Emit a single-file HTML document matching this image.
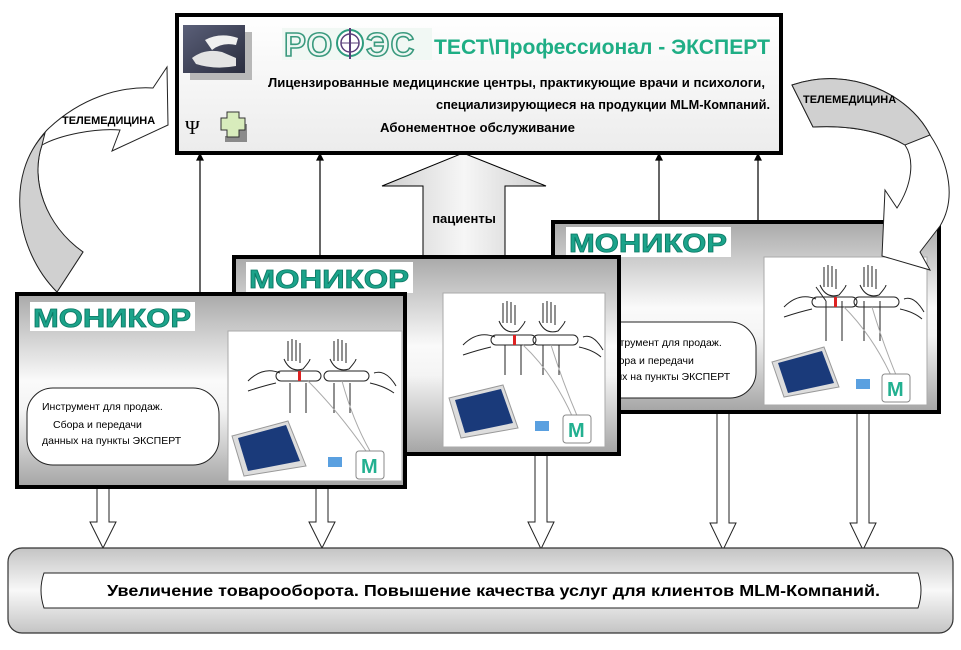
<!DOCTYPE html>
<html><head><meta charset="utf-8"><style>
html,body{margin:0;padding:0;background:#fff;}
svg{display:block;font-family:"Liberation Sans","DejaVu Sans",sans-serif;}
</style></head><body>
<svg width="961" height="650" viewBox="0 0 961 650" xmlns="http://www.w3.org/2000/svg">
<defs>
<linearGradient id="pg" x1="0" y1="0" x2="0" y2="1">
<stop offset="0" stop-color="#a9a9a9"/><stop offset="0.45" stop-color="#fafafa"/><stop offset="0.6" stop-color="#f4f4f4"/><stop offset="1" stop-color="#a4a4a4"/>
</linearGradient>
<linearGradient id="tg" x1="0" y1="0" x2="0" y2="1">
<stop offset="0" stop-color="#ffffff"/><stop offset="1" stop-color="#ececec"/>
</linearGradient>
<linearGradient id="bg" x1="0" y1="0" x2="0" y2="1">
<stop offset="0" stop-color="#c4c4c4"/><stop offset="0.5" stop-color="#f8f8f8"/><stop offset="1" stop-color="#c4c4c4"/>
</linearGradient>
<linearGradient id="ag" x1="0" y1="0" x2="1" y2="0">
<stop offset="0" stop-color="#cfcfcf"/><stop offset="0.5" stop-color="#f6f6f6"/><stop offset="1" stop-color="#cfcfcf"/>
</linearGradient>
<linearGradient id="dev" x1="0" y1="0" x2="1" y2="1">
<stop offset="0" stop-color="#5a5f78"/><stop offset="1" stop-color="#2a2d3e"/>
</linearGradient>
</defs>

<g stroke="#000" stroke-width="1.2" fill="#000">
<line x1="200" y1="294" x2="200" y2="158"/><path d="M197,160 L200,154 L203,160Z"/>
<line x1="320" y1="257" x2="320" y2="158"/><path d="M317,160 L320,154 L323,160Z"/>
<line x1="659" y1="222" x2="659" y2="158"/><path d="M656,160 L659,154 L662,160Z"/>
<line x1="758" y1="222" x2="758" y2="158"/><path d="M755,160 L758,154 L761,160Z"/>
</g>

<path d="M463,153 L546,186 L505,186 L505,258 L423,258 L423,186 L382,186Z" fill="url(#ag)" stroke="#000" stroke-width="1"/>
<text x="464" y="223" font-size="13" font-weight="bold" text-anchor="middle">пациенты</text>

<rect x="177" y="15" width="604" height="138" fill="url(#tg)" stroke="#000" stroke-width="4"/>
<rect x="190" y="32" width="62" height="48" fill="#b8b8b8"/>
<rect x="183" y="25" width="62" height="48" fill="url(#dev)"/>
<path d="M192,58 Q205,48 222,52 L236,58 L236,66 Q215,70 196,64Z" fill="#e4e4e4"/>
<path d="M205,40 Q220,32 238,38 L236,45 Q222,42 212,50Z" fill="#f0f0f0"/>
<rect x="282" y="28" width="150" height="32" fill="#f1f8f4"/>
<text x="284" y="56" font-size="33" fill="#eef7f3" stroke="#3a9a7e" stroke-width="1.6" font-weight="bold" letter-spacing="1">РО</text>
<circle cx="350" cy="43" r="13" fill="#fff" stroke="#2e9c7e" stroke-width="2"/>
<circle cx="350" cy="43" r="9" fill="#fff" stroke="#5a3f7a" stroke-width="1.5"/>
<line x1="350" y1="28" x2="350" y2="59" stroke="#5a3f7a" stroke-width="2"/>
<line x1="341" y1="43" x2="359" y2="43" stroke="#5a3f7a" stroke-width="1"/>
<text x="366" y="56" font-size="33" fill="#eef7f3" stroke="#3a9a7e" stroke-width="1.6" font-weight="bold" letter-spacing="1">ЭС</text>
<text x="434" y="54" font-size="21" fill="#1fae85" font-weight="bold" textLength="336" lengthAdjust="spacingAndGlyphs">ТЕСТ\Профессионал - ЭКСПЕРТ</text>
<text x="268" y="87" font-size="12.5" font-weight="bold" textLength="497" lengthAdjust="spacingAndGlyphs">Лицензированные медицинские центры, практикующие врачи и психологи,</text>
<text x="436" y="109" font-size="12.5" font-weight="bold" textLength="334" lengthAdjust="spacingAndGlyphs">специализирующиеся на продукции MLM-Компаний.</text>
<text x="380" y="132" font-size="12.5" font-weight="bold" textLength="195" lengthAdjust="spacingAndGlyphs">Абонементное обслуживание</text>
<text x="185" y="134" font-size="20" font-family="Liberation Serif,serif">Ψ</text>
<path d="M233,124 h14 v18 h-22 v-6 h8Z" fill="#8a8a8a"/>
<path d="M227,112 h12 v6 h6 v12 h-6 v7 h-12 v-7 h-6 v-12 h6Z" fill="#d8ecbc" stroke="#333" stroke-width="1"/>

<!-- left curved arrow -->
<path d="M57,292 C15,250 5,175 47,130 C80,98 120,86 153,88 L167,67 L168,125 L112,151 L120,130 C95,128 60,135 42,145 C30,180 45,225 83,252Z" fill="#fff" stroke="#222" stroke-width="1"/>
<path d="M57,292 C15,250 5,175 45,133 L42,145 C30,180 45,225 83,252Z" fill="#d0d0d0" stroke="#222" stroke-width="1"/>
<text x="62" y="124" font-size="11" font-weight="bold">ТЕЛЕМЕДИЦИНА</text>

<g fill="#fff" stroke="#222" stroke-width="1">
<path d="M97,488 h12 v34 h7 l-13,26 l-13,-26 h7Z"/>
<path d="M316,488 h12 v34 h7 l-13,26 l-13,-26 h7Z"/>
<path d="M535,455 h12 v67 h7 l-13,27 l-13,-27 h7Z"/>
<path d="M717,413 h12 v110 h7 l-13,27 l-13,-27 h7Z"/>
<path d="M857,413 h12 v110 h7 l-13,27 l-13,-27 h7Z"/>
</g>

<g transform="translate(553,222)">
<rect x="0" y="0" width="386" height="190" fill="url(#pg)" stroke="#000" stroke-width="4"/>
<rect x="13" y="5" width="165" height="30" fill="#fff"/>
<text x="16" y="30" font-size="26" font-weight="bold" fill="#1ba38a" stroke="#0d7a66" stroke-width="0.8" textLength="158" lengthAdjust="spacingAndGlyphs">МОНИКОР</text>
<rect x="18" y="100" width="185" height="76" rx="26" fill="#fff" stroke="#222" stroke-width="1"/>
<text x="48" y="124" font-size="10.5">Инструмент для продаж.</text>
<text x="52" y="142" font-size="10.5">Сбора  и  передачи</text>
<text x="38" y="158" font-size="10.5">данных на пункты ЭКСПЕРТ</text>
</g>
<g transform="translate(764,257)">
<rect width="163" height="148" fill="#fff" stroke="#aaa"/>
<g stroke="#222" fill="none" stroke-width="1">
<path d="M60,10 v20 M64,8 v22 M68,9 v21 M72,12 v20 M56,28 Q62,42 75,38 Q82,30 82,28 M52,30 L62,44 M62,44 v40 M78,44 v40"/>
<rect x="48" y="40" width="45" height="10" rx="5"/>
<path d="M100,10 v20 M104,8 v22 M108,9 v21 M112,12 v20 M96,28 Q102,42 115,38 Q122,30 122,28 M100,44 v40 M116,44 v40"/>
<rect x="90" y="40" width="45" height="10" rx="5"/>
<path d="M20,50 Q35,35 52,42 M20,60 Q35,55 48,52 M140,42 Q150,38 160,55 M136,52 Q150,55 158,62"/>
<path d="M80,50 Q110,80 130,125 M108,50 Q120,90 135,125" stroke="#aaa"/>
</g>
<rect x="70" y="40" width="3" height="10" fill="#d22"/>
<path d="M8,105 L60,90 L75,130 L20,140Z" fill="#ddd" stroke="#999"/>
<path d="M14,106 L58,94 L70,126 L24,136Z" fill="#1a3a7a"/>
<rect x="92" y="122" width="14" height="10" fill="#5aa0e0"/>
<rect x="118" y="117" width="28" height="28" rx="3" fill="#fff" stroke="#888"/>
<text x="123" y="139" font-size="20" font-weight="bold" fill="#22b090">M</text>
</g>

<!-- right curved arrow (on top of panel 1) -->
<path d="M792,85 C850,65 910,95 930,135 C950,165 956,200 940,226 L920,252 L930,270 L882,256 L885,190 L897,208 C912,185 915,160 905,145 C880,130 845,125 813,127Z" fill="#fff" stroke="#222" stroke-width="1"/>
<path d="M792,85 C850,65 910,95 930,135 L905,145 C880,130 845,125 813,127Z" fill="#d0d0d0" stroke="#222" stroke-width="1"/>
<text x="803" y="103" font-size="11" font-weight="bold">ТЕЛЕМЕДИЦИНА</text>

<g transform="translate(234,257)">
<rect x="0" y="0" width="385" height="197" fill="url(#pg)" stroke="#000" stroke-width="4"/>
<rect x="12" y="5" width="167" height="31" fill="#fff"/>
<text x="15" y="31" font-size="26" font-weight="bold" fill="#1ba38a" stroke="#0d7a66" stroke-width="0.8" textLength="160" lengthAdjust="spacingAndGlyphs">МОНИКОР</text>
</g>
<g transform="translate(443,293)">
<rect width="162" height="154" fill="#fff" stroke="#aaa"/>
<g stroke="#222" fill="none" stroke-width="1">
<path d="M60,10 v20 M64,8 v22 M68,9 v21 M72,12 v20 M56,28 Q62,42 75,38 Q82,30 82,28 M62,52 v30 M78,52 v30"/>
<rect x="48" y="42" width="45" height="10" rx="5"/>
<path d="M100,10 v20 M104,8 v22 M108,9 v21 M112,12 v20 M96,28 Q102,42 115,38 Q122,30 122,28 M100,52 v30 M116,52 v30"/>
<rect x="90" y="42" width="45" height="10" rx="5"/>
<path d="M20,52 Q35,37 52,44 M20,62 Q35,57 48,54 M140,44 Q150,40 160,57 M136,54 Q150,57 158,64"/>
<path d="M80,52 Q110,80 130,125 M108,52 Q120,90 135,125" stroke="#aaa"/>
</g>
<rect x="70" y="42" width="3" height="10" fill="#d22"/>
<path d="M6,105 L60,92 L75,135 L18,145Z" fill="#ddd" stroke="#999"/>
<path d="M12,107 L58,96 L70,130 L22,140Z" fill="#1a3a7a"/>
<rect x="92" y="128" width="14" height="10" fill="#5aa0e0"/>
<rect x="120" y="122" width="28" height="28" rx="3" fill="#fff" stroke="#888"/>
<text x="125" y="144" font-size="20" font-weight="bold" fill="#22b090">M</text>
</g>

<g transform="translate(17,294)">
<rect x="0" y="0" width="388" height="193" fill="url(#pg)" stroke="#000" stroke-width="4"/>
<rect x="13" y="8" width="165" height="29" fill="#fff"/>
<text x="16" y="33" font-size="26" font-weight="bold" fill="#1ba38a" stroke="#0d7a66" stroke-width="0.8" textLength="158" lengthAdjust="spacingAndGlyphs">МОНИКОР</text>
<rect x="10" y="94" width="192" height="77" rx="26" fill="#fff" stroke="#222" stroke-width="1"/>
<text x="25" y="116" font-size="10.5">Инструмент для продаж.</text>
<text x="36" y="134" font-size="10.5">Сбора  и  передачи</text>
<text x="25" y="150" font-size="10.5">данных на пункты ЭКСПЕРТ</text>
</g>
<g transform="translate(228,331)">
<rect width="174" height="150" fill="#fff" stroke="#aaa"/>
<g stroke="#222" fill="none" stroke-width="1">
<path d="M60,10 v20 M64,8 v22 M68,9 v21 M72,12 v20 M56,28 Q62,42 75,38 Q82,30 82,28 M62,52 v30 M78,52 v30"/>
<rect x="48" y="40" width="45" height="10" rx="5"/>
<path d="M106,10 v20 M110,8 v22 M114,9 v21 M118,12 v20 M102,28 Q108,42 121,38 Q128,30 128,28 M106,52 v30 M122,52 v30"/>
<rect x="96" y="40" width="45" height="10" rx="5"/>
<path d="M20,50 Q35,35 52,42 M20,60 Q35,55 48,52 M146,42 Q158,38 168,55 M142,52 Q156,55 166,62"/>
<path d="M80,50 Q110,80 138,120 M114,50 Q125,90 142,120" stroke="#aaa"/>
</g>
<rect x="70" y="40" width="3" height="10" fill="#d22"/>
<path d="M4,105 L60,90 L78,135 L16,145Z" fill="#ddd" stroke="#999"/>
<path d="M10,107 L58,94 L72,130 L20,140Z" fill="#1a3a7a"/>
<rect x="100" y="126" width="14" height="10" fill="#5aa0e0"/>
<rect x="128" y="120" width="28" height="28" rx="3" fill="#fff" stroke="#888"/>
<text x="133" y="142" font-size="20" font-weight="bold" fill="#22b090">M</text>
</g>

<rect x="8" y="548" width="945" height="85" rx="14" fill="url(#bg)" stroke="#333" stroke-width="1.2"/>
<path d="M44,573 L918,573 Q924,590 918,608 L44,608 Q38,590 44,573Z" fill="#fff" stroke="#222" stroke-width="1"/>
<text x="107" y="596" font-size="15.5" font-weight="bold" textLength="773" lengthAdjust="spacingAndGlyphs">Увеличение товарооборота.  Повышение качества услуг  для клиентов MLM-Компаний.</text>
</svg>
</body></html>
